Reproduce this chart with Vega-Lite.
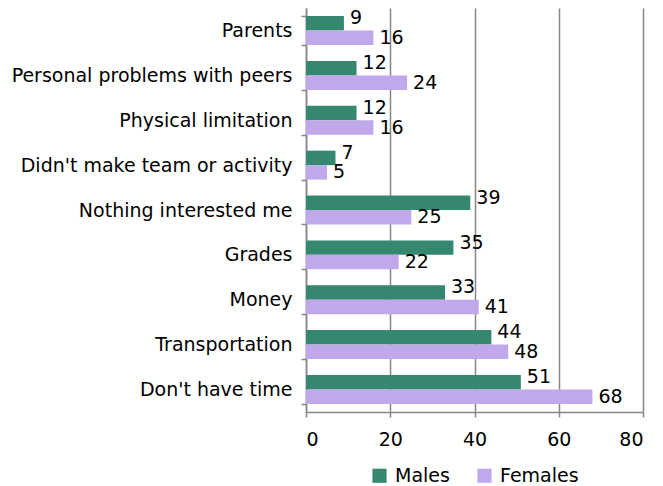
{
  "$schema": "https://vega.github.io/schema/vega-lite/v6.json",
  "autosize": {"type": "none"},
  "width": 337,
  "height": 404,
  "padding": {"left": 306, "top": 8, "right": 20, "bottom": 74},
  "background": "white",
  "config": {
    "font": "DejaVu Sans",
    "view": {"stroke": null}
  },
  "data": {
    "values": [
      {"reason": "Parents", "sex": "Males", "value": 9},
      {"reason": "Parents", "sex": "Females", "value": 16},
      {"reason": "Personal problems with peers", "sex": "Males", "value": 12},
      {"reason": "Personal problems with peers", "sex": "Females", "value": 24},
      {"reason": "Physical limitation", "sex": "Males", "value": 12},
      {"reason": "Physical limitation", "sex": "Females", "value": 16},
      {"reason": "Didn't make team or activity", "sex": "Males", "value": 7},
      {"reason": "Didn't make team or activity", "sex": "Females", "value": 5},
      {"reason": "Nothing interested me", "sex": "Males", "value": 39},
      {"reason": "Nothing interested me", "sex": "Females", "value": 25},
      {"reason": "Grades", "sex": "Males", "value": 35},
      {"reason": "Grades", "sex": "Females", "value": 22},
      {"reason": "Money", "sex": "Males", "value": 33},
      {"reason": "Money", "sex": "Females", "value": 41},
      {"reason": "Transportation", "sex": "Males", "value": 44},
      {"reason": "Transportation", "sex": "Females", "value": 48},
      {"reason": "Don't have time", "sex": "Males", "value": 51},
      {"reason": "Don't have time", "sex": "Females", "value": 68}
    ]
  },
  "encoding": {
    "y": {
      "field": "reason",
      "type": "nominal",
      "sort": null,
      "scale": {"paddingInner": 0.355, "paddingOuter": 0.18},
      "axis": {
        "title": null,
        "tickBand": "extent",
        "labelFontSize": 19,
        "labelLimit": 0,
        "labelColor": "#000000",
        "labelPadding": 9,
        "tickSize": 5,
        "tickColor": "#868686",
        "domainColor": "#868686",
        "tickWidth": 1.5,
        "domainWidth": 1.5,
        "grid": false
      }
    },
    "yOffset": {
      "field": "sex",
      "type": "nominal",
      "sort": ["Males", "Females"],
      "scale": {"paddingInner": 0, "paddingOuter": 0}
    },
    "x": {
      "field": "value",
      "type": "quantitative",
      "scale": {"domain": [0, 80]},
      "axis": {
        "title": null,
        "values": [0, 20, 40, 60, 80],
        "labelFontSize": 19,
        "labelColor": "#000000",
        "labelPadding": 13,
        "tickSize": 5,
        "tickColor": "#868686",
        "domainColor": "#868686",
        "tickWidth": 1.5,
        "domainWidth": 1.5,
        "grid": true,
        "gridColor": "#868686",
        "gridWidth": 1.5
      }
    }
  },
  "layer": [
    {
      "mark": {"type": "bar"},
      "encoding": {
        "color": {
          "field": "sex",
          "type": "nominal",
          "sort": ["Males", "Females"],
          "scale": {"domain": ["Males", "Females"], "range": ["#35876F", "#C0A8EA"]},
          "legend": {
            "title": null,
            "orient": "none",
            "direction": "horizontal",
            "legendX": 64,
            "legendY": 458,
            "symbolType": "square",
            "symbolSize": 200,
            "symbolStrokeWidth": 0,
            "labelFontSize": 19,
            "labelColor": "#000000",
            "columnPadding": 25,
            "labelOffset": 6
          }
        }
      }
    },
    {
      "transform": [{"filter": "datum.sex === 'Males'"}],
      "mark": {"type": "text", "align": "left", "baseline": "middle", "dx": 6, "dy": -5, "fontSize": 19, "color": "#000000"},
      "encoding": {
        "text": {"field": "value", "type": "quantitative"}
      }
    },
    {
      "transform": [{"filter": "datum.sex === 'Females'"}],
      "mark": {"type": "text", "align": "left", "baseline": "middle", "dx": 6, "dy": 0, "fontSize": 19, "color": "#000000"},
      "encoding": {
        "text": {"field": "value", "type": "quantitative"}
      }
    }
  ]
}
